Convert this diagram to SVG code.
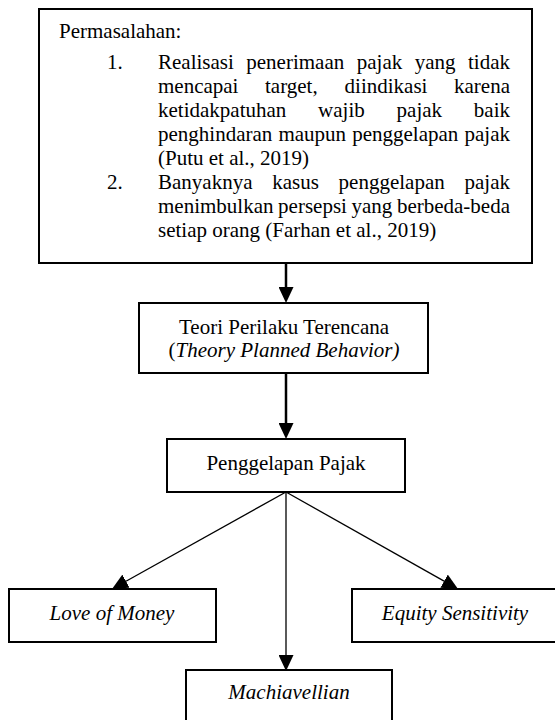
<svg xmlns="http://www.w3.org/2000/svg" width="555" height="720" viewBox="0 0 555 720">
<style>
.box{fill:#fff;stroke:#000;stroke-width:2}
.t{font-family:"Liberation Serif","Times New Roman",serif;font-size:21px;fill:#000}
.c{text-anchor:middle}
.e{text-anchor:end}
.i{font-style:italic}
.thick{stroke:#000;stroke-width:2.5;fill:none}
.thin{stroke:#000;stroke-width:1.3;fill:none}
</style>
<defs>
<marker id="ah" viewBox="0 0 16 15" refX="0" refY="7.5" markerWidth="16" markerHeight="15" markerUnits="userSpaceOnUse" orient="auto">
<path d="M0,0 L16,7.5 L0,15 z" fill="#000"/>
</marker>
</defs>
<rect width="555" height="720" fill="#fff"/>
<g id="connectors">
<line class="thick" x1="286" y1="264" x2="286" y2="287" marker-end="url(#ah)"/>
<line class="thick" x1="286" y1="373" x2="286" y2="423" marker-end="url(#ah)"/>
<line class="thin" x1="286" y1="492" x2="126" y2="581.2" marker-end="url(#ah)"/>
<line class="thin" x1="286" y1="492" x2="444.1" y2="581.1" marker-end="url(#ah)"/>
<line class="thin" x1="286" y1="492" x2="286" y2="655" marker-end="url(#ah)"/>
</g>
<g id="permasalahan">
<rect class="box" x="39" y="9" width="493" height="254"/>
<text class="t" x="59" y="38">Permasalahan:</text>
<text class="t" x="107" y="69">1.</text>
<text class="t" y="69"><tspan x="158">Realisasi</tspan><tspan x="246.3">penerimaan</tspan><tspan x="356.8">pajak</tspan><tspan x="414.8">yang</tspan></text>
<text class="t e" x="510" y="69">tidak</text>
<text class="t" y="93"><tspan x="158">mencapai</tspan><tspan x="265">target,</tspan><tspan x="344.6">diindikasi</tspan></text>
<text class="t e" x="510" y="93">karena</text>
<text class="t" y="117"><tspan x="158">ketidakpatuhan</tspan><tspan x="318.1">wajib</tspan><tspan x="396.6">pajak</tspan></text>
<text class="t e" x="510" y="117">baik</text>
<text class="t" y="141"><tspan x="158">penghindaran</tspan><tspan x="278.4">maupun</tspan><tspan x="352.2">penggelapan</tspan></text>
<text class="t e" x="510" y="141">pajak</text>
<text class="t" x="158" y="165">(Putu et al., 2019)</text>
<text class="t" x="107" y="189">2.</text>
<text class="t" y="189"><tspan x="158">Banyaknya</tspan><tspan x="272.2">kasus</tspan><tspan x="338.6">penggelapan</tspan></text>
<text class="t e" x="510" y="189">pajak</text>
<text class="t" y="213"><tspan x="158">menimbulkan</tspan><tspan x="278.1">persepsi</tspan><tspan x="351.5">yang</tspan></text>
<text class="t e" x="510" y="213">berbeda-beda</text>
<text class="t" x="158" y="237">setiap orang (Farhan et al., 2019)</text>
</g>
<g id="teori">
<rect class="box" x="139" y="303" width="289" height="70"/>
<text class="t c" x="284" y="334">Teori Perilaku Terencana</text>
<text class="t c" x="284" y="357">(<tspan class="i">Theory Planned Behavior)</tspan></text>
</g>
<g id="penggelapan">
<rect class="box" x="167" y="439" width="238" height="53"/>
<text class="t c" x="286" y="470">Penggelapan Pajak</text>
</g>
<g id="love">
<rect class="box" x="9" y="589" width="207" height="53"/>
<text class="t c i" x="112" y="620">Love of Money</text>
</g>
<g id="equity">
<rect class="box" x="352" y="589" width="206" height="53"/>
<text class="t c i" x="455" y="620">Equity Sensitivity</text>
</g>
<g id="machiavellian">
<rect class="box" x="186" y="670" width="206" height="53"/>
<text class="t c i" x="289" y="699">Machiavellian</text>
</g>
</svg>
